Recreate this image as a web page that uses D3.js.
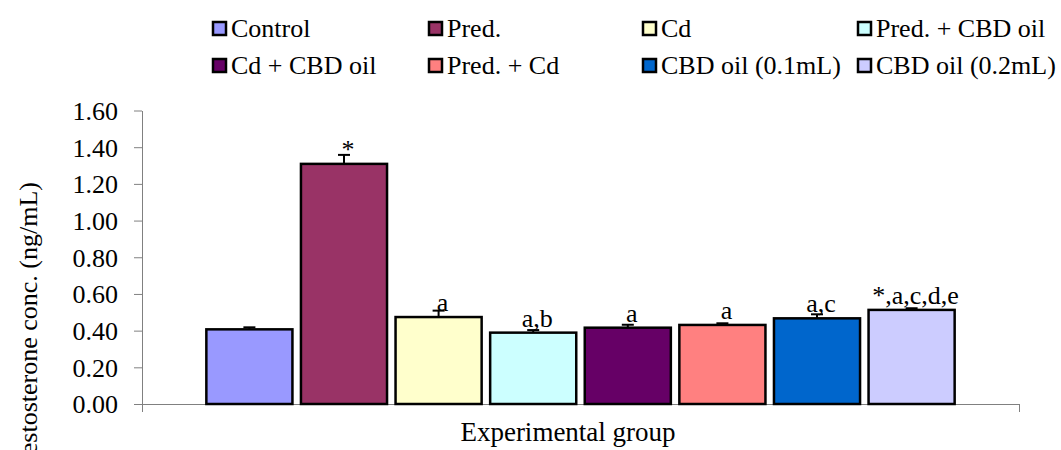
<!DOCTYPE html>
<html>
<head>
<meta charset="utf-8">
<script src="https://cdn.jsdelivr.net/npm/d3@7"></script>
<style>
  body { margin: 0; background: #fff; }
</style>
</head>
<body>
<div id="chart"></div>
<script>
const groups = ['Control', 'Pred.', 'Cd', 'Pred. + CBD oil', 'Cd + CBD oil', 'Pred. + Cd', 'CBD oil (0.1mL)', 'CBD oil (0.2mL)']
const means = [0.407, 1.309, 0.474, 0.389, 0.416, 0.431, 0.467, 0.513]
const errors = [0.011, 0.049, 0.035, 0.014, 0.016, 0.009, 0.022, 0.009]
const marks = ['', '*', 'a', 'a,b', 'a', 'a', 'a,c', '*,a,c,d,e']
const colors = ['#9999FF', '#993366', '#FFFFCC', '#CCFFFF', '#660066', '#FF8080', '#0066CC', '#CCCCFF']
const yTicks = [0, 0.2, 0.4, 0.6, 0.8, 1.0, 1.2, 1.4, 1.6]
const category = 'Experimental group'
const yTitle = 'Testosterone conc. (ng/mL)'

;(() => {
  const width = 1061
  const height = 450
  const fontSize = 26
  const font = '"Liberation Serif", "Times New Roman", Times, serif'
  const axisColor = '#808080'
  const plot = { left: 142, right: 1019, top: 110.5, bottom: 404 }

  const svg = d3.select('#chart')
    .append('svg')
      .attr('width', width)
      .attr('height', height)
      .style('font-family', font)

  const y = d3.scaleLinear()
    .domain([0, 1.6])
    .range([plot.bottom, plot.top])

  // one category, eight series side by side (like an excel clustered column)
  const x0 = d3.scaleBand()
    .domain([category])
    .range([plot.left, plot.right])
    .paddingOuter(0.0794)
  const x1 = d3.scaleBand()
    .domain(groups)
    .range([0, x0.bandwidth()])
    .paddingInner(0.09)
    .paddingOuter(0.045)
  const barX = g => x0(category) + x1(g)

  // y axis
  const yAxis = svg.append('g')
    .attr('transform', `translate(${plot.left},0)`)
    .call(d3.axisLeft(y)
      .tickValues(yTicks)
      .tickFormat(d3.format('.2f'))
      .tickSize(8)
      .tickSizeOuter(0)
      .tickPadding(16))
  yAxis.attr('font-family', font).attr('font-size', fontSize)
  yAxis.select('.domain').attr('stroke', axisColor)
  yAxis.selectAll('.tick line').attr('stroke', axisColor)
  yAxis.selectAll('.tick text')
    .attr('dy', '0.34em')
    .attr('fill', '#000')

  // x axis, ticks only at the two category edges
  const xEdge = d3.scaleLinear().domain([0, 1]).range([plot.left, plot.right])
  const xAxis = svg.append('g')
    .attr('transform', `translate(0,${plot.bottom})`)
    .call(d3.axisBottom(xEdge)
      .tickValues([0, 1])
      .tickFormat('')
      .tickSize(8)
      .tickSizeOuter(0))
  xAxis.select('.domain').attr('stroke', axisColor)
  xAxis.selectAll('.tick line').attr('stroke', axisColor)

  // bars
  svg.append('g')
    .selectAll('rect')
    .data(groups)
    .join('rect')
      .attr('x', g => barX(g))
      .attr('y', (g, i) => y(means[i]))
      .attr('width', x1.bandwidth())
      .attr('height', (g, i) => y(0) - y(means[i]))
      .attr('fill', (g, i) => colors[i])
      .attr('stroke', '#000')
      .attr('stroke-width', 2.5)

  // error bars (upper half only)
  const capHalf = 6
  const err = svg.append('g')
    .attr('stroke', '#000')
    .attr('stroke-width', 2)
  groups.forEach((g, i) => {
    const cx = barX(g) + x1.bandwidth() / 2
    err.append('line')
      .attr('x1', cx).attr('x2', cx)
      .attr('y1', y(means[i])).attr('y2', y(means[i] + errors[i]))
    err.append('line')
      .attr('x1', cx - capHalf).attr('x2', cx + capHalf)
      .attr('y1', y(means[i] + errors[i])).attr('y2', y(means[i] + errors[i]))
  })

  // significance letters
  svg.append('g')
    .selectAll('text')
    .data(groups)
    .join('text')
      .attr('x', g => barX(g) + x1.bandwidth() / 2 + 4)
      .attr('y', (g, i) => y(means[i]) - 6)
      .attr('text-anchor', 'middle')
      .attr('font-family', font)
      .attr('font-size', fontSize)
      .text((g, i) => marks[i])

  // axis titles
  svg.append('text')
    .attr('x', 568)
    .attr('y', 441)
    .attr('text-anchor', 'middle')
    .attr('font-family', font)
    .attr('font-size', 27)
    .text(category)

  // the reference clips the start of this title at the bottom edge
  svg.append('text')
    .attr('transform', 'translate(37,182) rotate(-90)')
    .attr('text-anchor', 'end')
    .attr('font-family', font)
    .attr('font-size', fontSize)
    .text(yTitle)

  // legend, 4 columns x 2 rows
  const legendCols = [212, 428, 642, 857]
  const legendRows = [37, 74]
  const legend = svg.append('g')
    .selectAll('g')
    .data(groups)
    .join('g')
      .attr('transform', (g, i) => `translate(${legendCols[i % 4]},${legendRows[Math.floor(i / 4)]})`)
  legend.append('rect')
    .attr('x', 1)
    .attr('y', -15)
    .attr('width', 13)
    .attr('height', 13)
    .attr('fill', (g, i) => colors[i])
    .attr('stroke', '#000')
    .attr('stroke-width', 2.5)
  legend.append('text')
    .attr('x', 19)
    .attr('font-family', font)
    .attr('font-size', fontSize)
    .text(g => g)
})()
</script>
</body>
</html>
